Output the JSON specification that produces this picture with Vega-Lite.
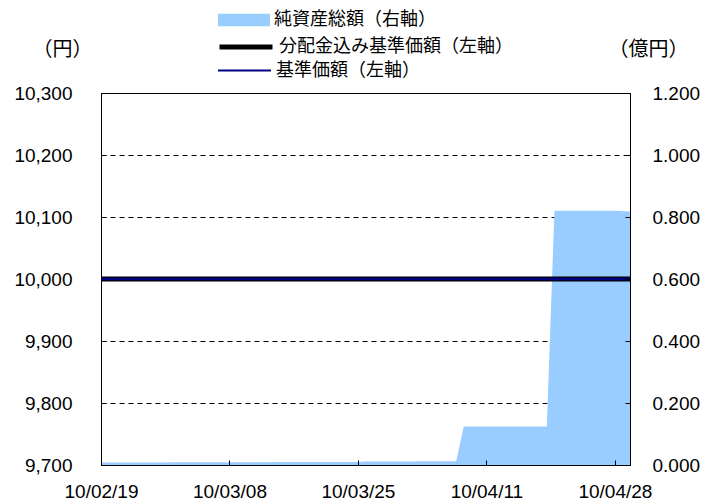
{
  "$schema": "https://vega.github.io/schema/vega-lite/v6.json",
  "width": 529,
  "height": 372,
  "autosize": "none",
  "padding": {"left": 101, "top": 93, "right": 71, "bottom": 37},
  "background": "white",
  "config": {
    "view": {"stroke": "black", "strokeWidth": 1},
    "font": "Liberation Sans",
    "axis": {"labelFont": "Liberation Sans", "labelFontSize": 19, "labelColor": "black", "domainColor": "black", "tickColor": "black", "titleFont": "Noto Sans CJK JP", "titleFontWeight": "normal", "titleFontSize": 20, "titleColor": "black"},
    "legend": {"labelFont": "Noto Sans CJK JP", "labelFontSize": 18, "labelColor": "black", "labelLimit": 400, "padding": 0, "offset": 0}
  },
  "datasets": {
    "assets": [
      {"date": "2010-02-19", "value": 0.008},
      {"date": "2010-02-22", "value": 0.008},
      {"date": "2010-02-23", "value": 0.008},
      {"date": "2010-02-24", "value": 0.008},
      {"date": "2010-02-25", "value": 0.008},
      {"date": "2010-02-26", "value": 0.008},
      {"date": "2010-03-01", "value": 0.009},
      {"date": "2010-03-02", "value": 0.009},
      {"date": "2010-03-03", "value": 0.009},
      {"date": "2010-03-04", "value": 0.009},
      {"date": "2010-03-05", "value": 0.009},
      {"date": "2010-03-08", "value": 0.009},
      {"date": "2010-03-09", "value": 0.009},
      {"date": "2010-03-10", "value": 0.009},
      {"date": "2010-03-11", "value": 0.009},
      {"date": "2010-03-12", "value": 0.009},
      {"date": "2010-03-15", "value": 0.010},
      {"date": "2010-03-16", "value": 0.010},
      {"date": "2010-03-17", "value": 0.010},
      {"date": "2010-03-18", "value": 0.010},
      {"date": "2010-03-19", "value": 0.010},
      {"date": "2010-03-23", "value": 0.010},
      {"date": "2010-03-24", "value": 0.010},
      {"date": "2010-03-25", "value": 0.010},
      {"date": "2010-03-26", "value": 0.011},
      {"date": "2010-03-29", "value": 0.011},
      {"date": "2010-03-30", "value": 0.011},
      {"date": "2010-03-31", "value": 0.011},
      {"date": "2010-04-01", "value": 0.011},
      {"date": "2010-04-02", "value": 0.012},
      {"date": "2010-04-05", "value": 0.012},
      {"date": "2010-04-06", "value": 0.012},
      {"date": "2010-04-07", "value": 0.012},
      {"date": "2010-04-08", "value": 0.124},
      {"date": "2010-04-09", "value": 0.124},
      {"date": "2010-04-12", "value": 0.124},
      {"date": "2010-04-13", "value": 0.124},
      {"date": "2010-04-14", "value": 0.124},
      {"date": "2010-04-15", "value": 0.124},
      {"date": "2010-04-16", "value": 0.124},
      {"date": "2010-04-19", "value": 0.124},
      {"date": "2010-04-20", "value": 0.820},
      {"date": "2010-04-21", "value": 0.820},
      {"date": "2010-04-22", "value": 0.820},
      {"date": "2010-04-23", "value": 0.820},
      {"date": "2010-04-26", "value": 0.820},
      {"date": "2010-04-27", "value": 0.820},
      {"date": "2010-04-28", "value": 0.820},
      {"date": "2010-04-30", "value": 0.818}
    ],
    "prices": [
      {"date": "2010-02-19", "series": "分配金込み基準価額（左軸）", "value": 10000},
      {"date": "2010-02-22", "series": "分配金込み基準価額（左軸）", "value": 10000},
      {"date": "2010-02-23", "series": "分配金込み基準価額（左軸）", "value": 10000},
      {"date": "2010-02-24", "series": "分配金込み基準価額（左軸）", "value": 10000},
      {"date": "2010-02-25", "series": "分配金込み基準価額（左軸）", "value": 10000},
      {"date": "2010-02-26", "series": "分配金込み基準価額（左軸）", "value": 10000},
      {"date": "2010-03-01", "series": "分配金込み基準価額（左軸）", "value": 10000},
      {"date": "2010-03-02", "series": "分配金込み基準価額（左軸）", "value": 10000},
      {"date": "2010-03-03", "series": "分配金込み基準価額（左軸）", "value": 10000},
      {"date": "2010-03-04", "series": "分配金込み基準価額（左軸）", "value": 10000},
      {"date": "2010-03-05", "series": "分配金込み基準価額（左軸）", "value": 10000},
      {"date": "2010-03-08", "series": "分配金込み基準価額（左軸）", "value": 10000},
      {"date": "2010-03-09", "series": "分配金込み基準価額（左軸）", "value": 10000},
      {"date": "2010-03-10", "series": "分配金込み基準価額（左軸）", "value": 10000},
      {"date": "2010-03-11", "series": "分配金込み基準価額（左軸）", "value": 10000},
      {"date": "2010-03-12", "series": "分配金込み基準価額（左軸）", "value": 10000},
      {"date": "2010-03-15", "series": "分配金込み基準価額（左軸）", "value": 10000},
      {"date": "2010-03-16", "series": "分配金込み基準価額（左軸）", "value": 10000},
      {"date": "2010-03-17", "series": "分配金込み基準価額（左軸）", "value": 10000},
      {"date": "2010-03-18", "series": "分配金込み基準価額（左軸）", "value": 10000},
      {"date": "2010-03-19", "series": "分配金込み基準価額（左軸）", "value": 10000},
      {"date": "2010-03-23", "series": "分配金込み基準価額（左軸）", "value": 10000},
      {"date": "2010-03-24", "series": "分配金込み基準価額（左軸）", "value": 10000},
      {"date": "2010-03-25", "series": "分配金込み基準価額（左軸）", "value": 10000},
      {"date": "2010-03-26", "series": "分配金込み基準価額（左軸）", "value": 10000},
      {"date": "2010-03-29", "series": "分配金込み基準価額（左軸）", "value": 10000},
      {"date": "2010-03-30", "series": "分配金込み基準価額（左軸）", "value": 10000},
      {"date": "2010-03-31", "series": "分配金込み基準価額（左軸）", "value": 10000},
      {"date": "2010-04-01", "series": "分配金込み基準価額（左軸）", "value": 10000},
      {"date": "2010-04-02", "series": "分配金込み基準価額（左軸）", "value": 10000},
      {"date": "2010-04-05", "series": "分配金込み基準価額（左軸）", "value": 10000},
      {"date": "2010-04-06", "series": "分配金込み基準価額（左軸）", "value": 10000},
      {"date": "2010-04-07", "series": "分配金込み基準価額（左軸）", "value": 10000},
      {"date": "2010-04-08", "series": "分配金込み基準価額（左軸）", "value": 10000},
      {"date": "2010-04-09", "series": "分配金込み基準価額（左軸）", "value": 10000},
      {"date": "2010-04-12", "series": "分配金込み基準価額（左軸）", "value": 10000},
      {"date": "2010-04-13", "series": "分配金込み基準価額（左軸）", "value": 10000},
      {"date": "2010-04-14", "series": "分配金込み基準価額（左軸）", "value": 10000},
      {"date": "2010-04-15", "series": "分配金込み基準価額（左軸）", "value": 10000},
      {"date": "2010-04-16", "series": "分配金込み基準価額（左軸）", "value": 10000},
      {"date": "2010-04-19", "series": "分配金込み基準価額（左軸）", "value": 10000},
      {"date": "2010-04-20", "series": "分配金込み基準価額（左軸）", "value": 10000},
      {"date": "2010-04-21", "series": "分配金込み基準価額（左軸）", "value": 10000},
      {"date": "2010-04-22", "series": "分配金込み基準価額（左軸）", "value": 10000},
      {"date": "2010-04-23", "series": "分配金込み基準価額（左軸）", "value": 10000},
      {"date": "2010-04-26", "series": "分配金込み基準価額（左軸）", "value": 10000},
      {"date": "2010-04-27", "series": "分配金込み基準価額（左軸）", "value": 10000},
      {"date": "2010-04-28", "series": "分配金込み基準価額（左軸）", "value": 10000},
      {"date": "2010-04-30", "series": "分配金込み基準価額（左軸）", "value": 10000},
      {"date": "2010-02-19", "series": "基準価額（左軸）", "value": 10000},
      {"date": "2010-02-22", "series": "基準価額（左軸）", "value": 10000},
      {"date": "2010-02-23", "series": "基準価額（左軸）", "value": 10000},
      {"date": "2010-02-24", "series": "基準価額（左軸）", "value": 10000},
      {"date": "2010-02-25", "series": "基準価額（左軸）", "value": 10000},
      {"date": "2010-02-26", "series": "基準価額（左軸）", "value": 10000},
      {"date": "2010-03-01", "series": "基準価額（左軸）", "value": 10000},
      {"date": "2010-03-02", "series": "基準価額（左軸）", "value": 10000},
      {"date": "2010-03-03", "series": "基準価額（左軸）", "value": 10000},
      {"date": "2010-03-04", "series": "基準価額（左軸）", "value": 10000},
      {"date": "2010-03-05", "series": "基準価額（左軸）", "value": 10000},
      {"date": "2010-03-08", "series": "基準価額（左軸）", "value": 10000},
      {"date": "2010-03-09", "series": "基準価額（左軸）", "value": 10000},
      {"date": "2010-03-10", "series": "基準価額（左軸）", "value": 10000},
      {"date": "2010-03-11", "series": "基準価額（左軸）", "value": 10000},
      {"date": "2010-03-12", "series": "基準価額（左軸）", "value": 10000},
      {"date": "2010-03-15", "series": "基準価額（左軸）", "value": 10000},
      {"date": "2010-03-16", "series": "基準価額（左軸）", "value": 10000},
      {"date": "2010-03-17", "series": "基準価額（左軸）", "value": 10000},
      {"date": "2010-03-18", "series": "基準価額（左軸）", "value": 10000},
      {"date": "2010-03-19", "series": "基準価額（左軸）", "value": 10000},
      {"date": "2010-03-23", "series": "基準価額（左軸）", "value": 10000},
      {"date": "2010-03-24", "series": "基準価額（左軸）", "value": 10000},
      {"date": "2010-03-25", "series": "基準価額（左軸）", "value": 10000},
      {"date": "2010-03-26", "series": "基準価額（左軸）", "value": 10000},
      {"date": "2010-03-29", "series": "基準価額（左軸）", "value": 10000},
      {"date": "2010-03-30", "series": "基準価額（左軸）", "value": 10000},
      {"date": "2010-03-31", "series": "基準価額（左軸）", "value": 10000},
      {"date": "2010-04-01", "series": "基準価額（左軸）", "value": 10000},
      {"date": "2010-04-02", "series": "基準価額（左軸）", "value": 10000},
      {"date": "2010-04-05", "series": "基準価額（左軸）", "value": 10000},
      {"date": "2010-04-06", "series": "基準価額（左軸）", "value": 10000},
      {"date": "2010-04-07", "series": "基準価額（左軸）", "value": 10000},
      {"date": "2010-04-08", "series": "基準価額（左軸）", "value": 10000},
      {"date": "2010-04-09", "series": "基準価額（左軸）", "value": 10000},
      {"date": "2010-04-12", "series": "基準価額（左軸）", "value": 10000},
      {"date": "2010-04-13", "series": "基準価額（左軸）", "value": 10000},
      {"date": "2010-04-14", "series": "基準価額（左軸）", "value": 10000},
      {"date": "2010-04-15", "series": "基準価額（左軸）", "value": 10000},
      {"date": "2010-04-16", "series": "基準価額（左軸）", "value": 10000},
      {"date": "2010-04-19", "series": "基準価額（左軸）", "value": 10000},
      {"date": "2010-04-20", "series": "基準価額（左軸）", "value": 10000},
      {"date": "2010-04-21", "series": "基準価額（左軸）", "value": 10000},
      {"date": "2010-04-22", "series": "基準価額（左軸）", "value": 10000},
      {"date": "2010-04-23", "series": "基準価額（左軸）", "value": 10000},
      {"date": "2010-04-26", "series": "基準価額（左軸）", "value": 10000},
      {"date": "2010-04-27", "series": "基準価額（左軸）", "value": 10000},
      {"date": "2010-04-28", "series": "基準価額（左軸）", "value": 10000},
      {"date": "2010-04-30", "series": "基準価額（左軸）", "value": 10000}
    ]
  },
  "layer": [
    {
      "data": {"name": "assets"},
      "mark": {"type": "area", "interpolate": "linear", "opacity": 1},
      "encoding": {
        "x": {
          "field": "date", "type": "temporal",
          "scale": {"type": "utc", "domain": [{"year": 2010, "month": 2, "date": 19, "utc": true}, {"year": 2010, "month": 4, "date": 30, "utc": true}]},
          "axis": {"title": null, "format": "%y/%m/%d", "values": [{"year": 2010, "month": 2, "date": 19, "utc": true}, {"year": 2010, "month": 3, "date": 8, "utc": true}, {"year": 2010, "month": 3, "date": 25, "utc": true}, {"year": 2010, "month": 4, "date": 11, "utc": true}, {"year": 2010, "month": 4, "date": 28, "utc": true}], "tickSize": -5, "labelPadding": 22, "grid": false, "zindex": 1, "labelFlush": false, "labelOverlap": false}
        },
        "y": {
          "field": "value", "type": "quantitative",
          "scale": {"domain": [0, 1.2], "nice": false, "zero": false},
          "axis": {"orient": "right", "values": [0, 0.2, 0.4, 0.6, 0.8, 1.0, 1.2], "format": ".3f", "tickSize": -5, "labelPadding": 27, "grid": false, "zindex": 1, "title": "（億円）", "titleAngle": 0, "titleX": 18, "titleY": -44, "titleAlign": "center", "titleBaseline": "middle", "labelFlush": false}
        },
        "fill": {
          "datum": "純資産総額（右軸）",
          "scale": {"domain": ["純資産総額（右軸）"], "range": ["#99ccff"]},
          "legend": {"title": null, "orient": "none", "legendX": 117, "legendY": -99, "symbolType": "M-1,-0.24H1V0.24H-1Z", "symbolSize": 2704, "symbolStrokeWidth": 0, "symbolOpacity": 1, "labelOffset": 4}
        }
      }
    },
    {
      "data": {"name": "prices"},
      "encoding": {
        "x": {
          "field": "date", "type": "temporal",
          "scale": {"type": "utc", "domain": [{"year": 2010, "month": 2, "date": 19, "utc": true}, {"year": 2010, "month": 4, "date": 30, "utc": true}]},
          "axis": {"title": null, "format": "%y/%m/%d", "values": [{"year": 2010, "month": 2, "date": 19, "utc": true}, {"year": 2010, "month": 3, "date": 8, "utc": true}, {"year": 2010, "month": 3, "date": 25, "utc": true}, {"year": 2010, "month": 4, "date": 11, "utc": true}, {"year": 2010, "month": 4, "date": 28, "utc": true}], "tickSize": -5, "labelPadding": 22, "grid": false, "zindex": 1, "labelFlush": false, "labelOverlap": false}
        },
        "y": {
          "field": "value", "type": "quantitative",
          "scale": {"domain": [9700, 10300], "nice": false, "zero": false},
          "axis": {"orient": "left", "values": [9700, 9800, 9900, 10000, 10100, 10200, 10300], "format": ",.0f", "tickSize": -5, "labelPadding": 34, "grid": true, "gridColor": "black", "gridDash": [5, 4], "gridWidth": 1, "zindex": 0, "title": "（円）", "titleAngle": 0, "titleX": -39, "titleY": -44, "titleAlign": "center", "titleBaseline": "middle", "labelFlush": false}
        }
      },
      "layer": [
        {
          "transform": [{"filter": "datum.series === '分配金込み基準価額（左軸）'"}],
          "mark": {"type": "line", "interpolate": "linear", "strokeWidth": 5},
          "encoding": {
            "stroke": {
              "field": "series", "type": "nominal",
              "scale": {"domain": ["分配金込み基準価額（左軸）"], "range": ["#000000"]},
              "legend": {"title": null, "orient": "none", "legendX": 116, "legendY": -75, "symbolType": "stroke", "symbolSize": 2809, "symbolStrokeWidth": 5, "labelOffset": 4}
            }
          }
        },
        {
          "transform": [{"filter": "datum.series === '基準価額（左軸）'"}],
          "mark": {"type": "line", "interpolate": "linear", "strokeWidth": 2.5},
          "encoding": {
            "stroke": {
              "field": "series", "type": "nominal",
              "scale": {"domain": ["基準価額（左軸）"], "range": ["#000080"]},
              "legend": {"title": null, "orient": "none", "legendX": 116, "legendY": -50, "symbolType": "stroke", "symbolSize": 2809, "symbolStrokeWidth": 2, "labelOffset": 4}
            }
          }
        }
      ],
      "resolve": {"scale": {"stroke": "independent"}}
    }
  ],
  "resolve": {"scale": {"y": "independent"}}
}
